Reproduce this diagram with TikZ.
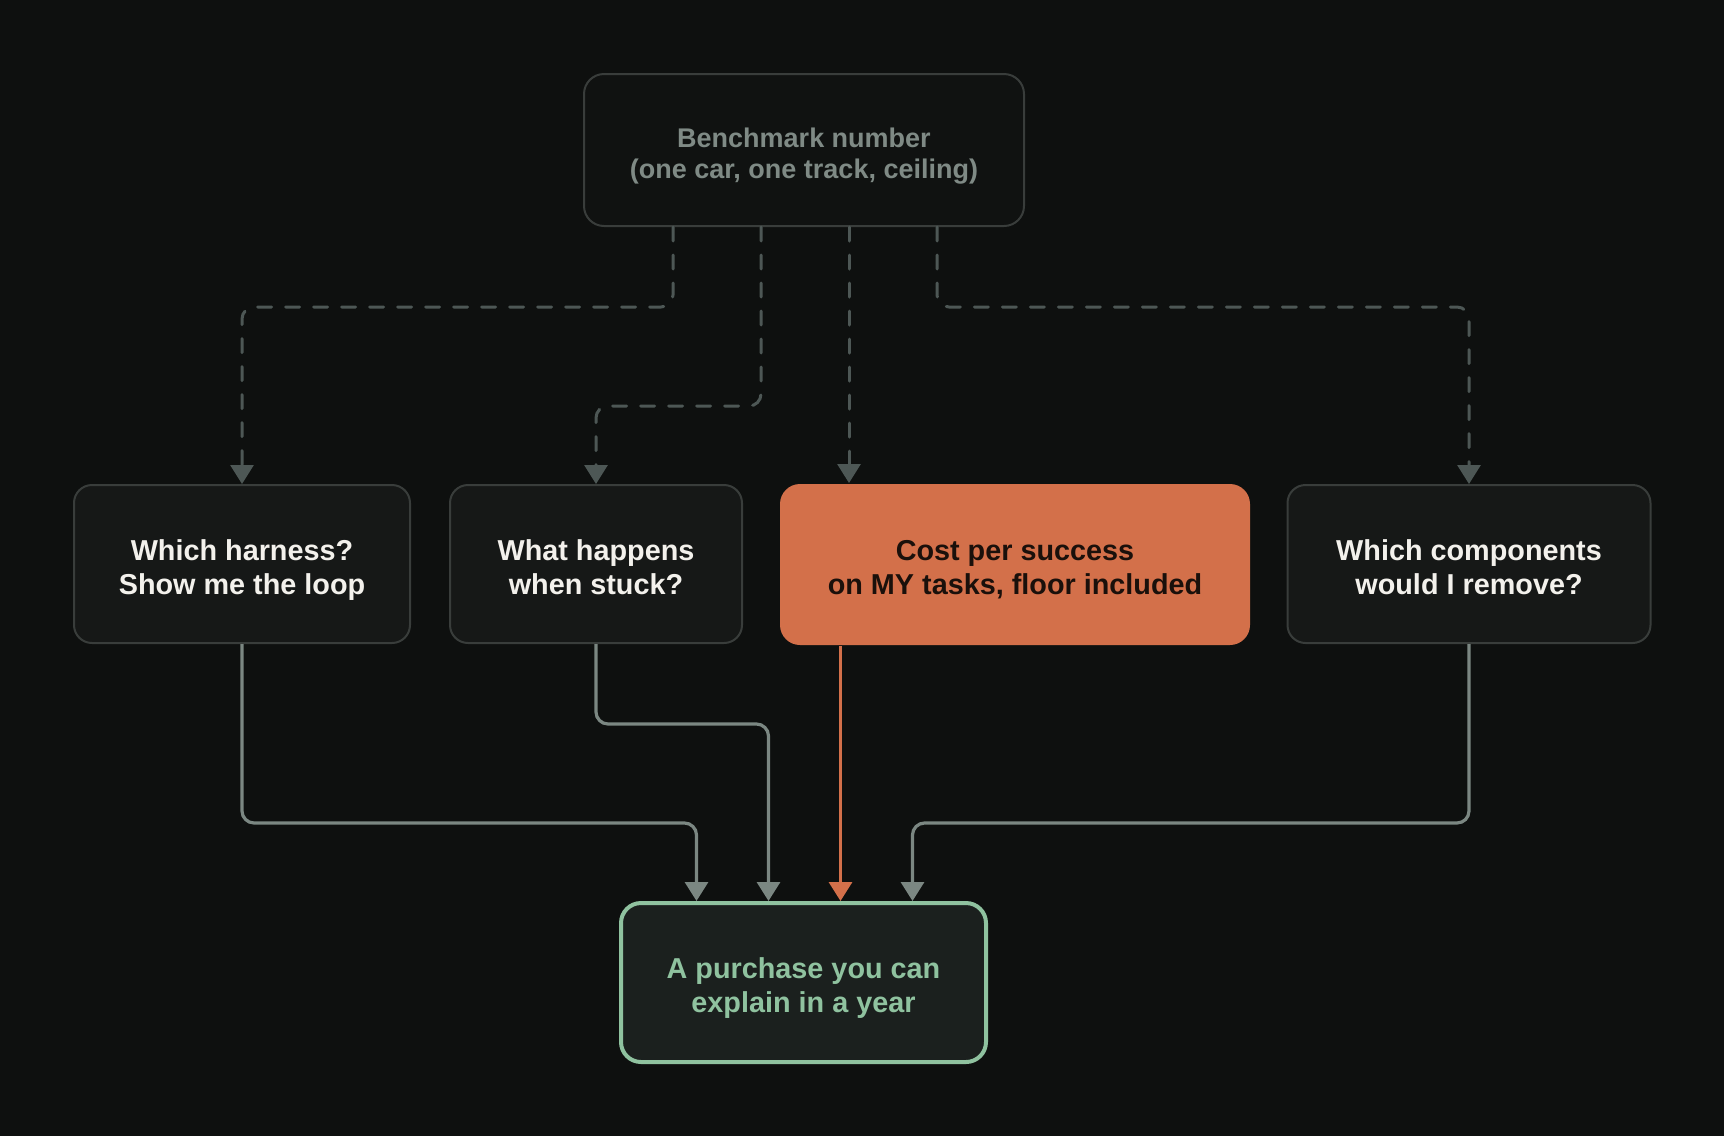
\documentclass[tikz,border=0pt]{standalone}
\usepackage{fontspec}
\setmainfont{Liberation Sans}
\usetikzlibrary{arrows.meta}
\definecolor{bg}{HTML}{0E100F}
\definecolor{card}{HTML}{161817}
\definecolor{cardtop}{HTML}{101211}
\definecolor{edge}{HTML}{393D3B}
\definecolor{ink}{HTML}{F3F1EC}
\definecolor{muted}{HTML}{7F8A85}
\definecolor{dashc}{HTML}{4D5755}
\definecolor{flowc}{HTML}{7B8782}
\definecolor{rust}{HTML}{D3704A}
\definecolor{rustink}{HTML}{1A100B}
\definecolor{sage}{HTML}{8FC29F}
\definecolor{goalfill}{HTML}{1B201E}
\newcommand\hitop{\rule{0pt}{16pt}}
\newcommand\lowend{\rule[-3pt]{0pt}{3pt}}

\begin{document}
\begin{tikzpicture}[x=0.5pt,y=-0.5pt,
  box/.style={draw=edge,fill=card,line width=1pt,rounded corners=9pt,
    inner sep=0pt,align=center,text=ink,
    font=\bfseries\fontsize{14.4}{17}\selectfont},
  tip/.style={-{Triangle[width=11.5pt,length=9.5pt]}},
  dashline/.style={tip,draw=dashc,line width=1.5pt,line cap=round,
    dash pattern=on 7pt off 7pt,rounded corners=6pt},
  flow/.style={tip,draw=flowc,line width=1.6pt,rounded corners=6pt},
  hot/.style={tip,draw=rust,line width=1.6pt}]
\fill[bg] (0,0) rectangle (1724,1136);
% source
\node[box,fill=cardtop,text=muted,minimum width=220pt,minimum height=76pt,
  rounded corners=10pt,font=\bfseries\fontsize{13.5}{15.6}\selectfont]
  (bench) at (804,150)
  {\hitop Benchmark number\\(one car, one track, ceiling)\lowend};
% questions
\node[box,minimum width=168pt,minimum height=79pt] (harness) at (242,564)
  {\hitop Which harness?\\Show me the loop\lowend};
\node[box,minimum width=146pt,minimum height=79pt] (stuck) at (596,564)
  {\hitop What happens\\when stuck?\lowend};
\node[box,draw=none,fill=rust,text=rustink,minimum width=235pt,
  minimum height=80.5pt,rounded corners=10pt] (cost) at (1015,564.5)
  {\hitop Cost per success\\on MY tasks, floor included\lowend};
\node[box,minimum width=181.5pt,minimum height=79pt] (remove) at (1469,564)
  {\hitop Which components\\would I remove?\lowend};
% outcome
\node[box,draw=sage,fill=goalfill,text=sage,line width=2pt,
  minimum width=182.5pt,minimum height=79.5pt,rounded corners=10pt] (goal)
  at (803.5,982.5) {\hitop A purchase you can\\explain in a year\lowend};
% benchmark -> questions
\draw[dashline] ([xshift=-65.5pt]bench.south) -- ++(0,80) -| (harness.north);
\draw[dashline] ([xshift=-21.5pt]bench.south) -- ++(0,179) -| (stuck.north);
\draw[dashline] ([xshift=22.5pt]bench.south) -- ([xshift=22.5pt]bench.south |- cost.north);
\draw[dashline] ([xshift=66.5pt]bench.south) -- ++(0,80) -| (remove.north);
% questions -> purchase
\draw[flow] (harness.south) -- ++(0,179) -| ([xshift=-53.5pt]goal.north);
\draw[flow] (stuck.south) -- ++(0,80) -| ([xshift=-17.5pt]goal.north);
\draw[hot] ([xshift=18.5pt]goal.north |- cost.south) -- ([xshift=18.5pt]goal.north);
\draw[flow] (remove.south) -- ++(0,179) -| ([xshift=54.5pt]goal.north);
\end{tikzpicture}
\end{document}
